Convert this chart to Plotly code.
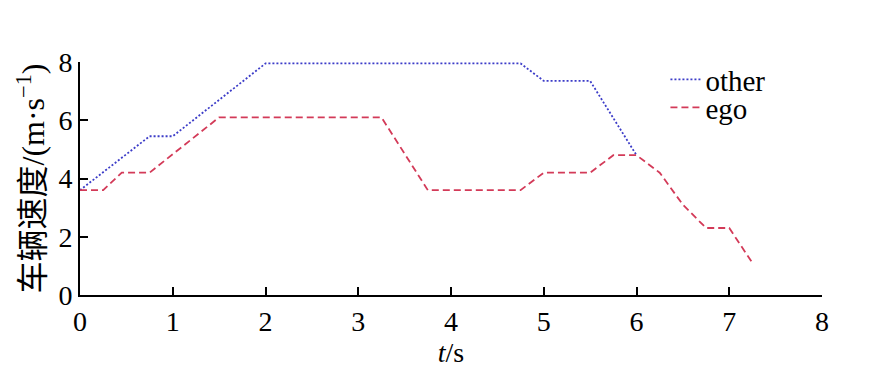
import plotly.graph_objects as go

other_t = [0, 0.75, 1.0, 2.0, 4.75, 5.0, 5.5, 6.0]
other_v = [3.6, 5.45, 5.45, 7.95, 7.95, 7.35, 7.35, 4.8]

ego_t = [0, 0.25, 0.45, 0.75, 1.5, 3.25, 3.75, 4.75, 5.0, 5.5, 5.75, 6.0, 6.25, 6.5, 6.75, 7.0, 7.25]
ego_v = [3.6, 3.6, 4.2, 4.2, 6.1, 6.1, 3.6, 3.6, 4.2, 4.2, 4.8, 4.8, 4.2, 3.1, 2.3, 2.3, 1.1]

x_ticks = [0, 1, 2, 3, 4, 5, 6, 7, 8]
y_ticks = [0, 2, 4, 6, 8]

serif = "Liberation Serif"
title_font = "Liberation Serif, Noto Sans CJK SC"

fig = go.Figure()
fig.add_trace(go.Scatter(x=other_t, y=other_v, mode="lines", name="other", legend="legend",
                         line=dict(color="#3c3cc8", width=1.8, dash="2px,2px")))
fig.add_trace(go.Scatter(x=ego_t, y=ego_v, mode="lines", name="ego", legend="legend2",
                         line=dict(color="#d33a58", width=1.8, dash="7px,4px")))

leg_common = dict(xanchor="left", yanchor="middle", bgcolor="rgba(0,0,0,0)",
                  font=dict(size=29, family=serif), itemwidth=30)

fig.update_layout(
    width=892, height=374,
    margin=dict(l=80, r=70, t=62, b=79),
    paper_bgcolor="white", plot_bgcolor="white",
    font=dict(family=serif, size=28, color="black"),
    showlegend=True,
    legend=dict(x=0.789, y=0.925, **leg_common),
    legend2=dict(x=0.789, y=0.805, **leg_common),
    xaxis=dict(range=[0, 8], tickvals=x_ticks, ticks="inside", ticklen=8,
               tickwidth=1.5, tickcolor="black", showline=True, linecolor="black",
               linewidth=2, showgrid=False, zeroline=False,
               title=dict(text="<i>t</i>/s", font=dict(size=28, family=serif), standoff=2)),
    yaxis=dict(range=[0, 8], tickvals=y_ticks, ticks="inside", ticklen=8,
               tickwidth=1.5, tickcolor="black", showline=True, linecolor="black",
               linewidth=2, showgrid=False, zeroline=False,
               title=dict(text="车辆速度/(m·s<sup>−1</sup>)", font=dict(size=32, family=title_font), standoff=4)),
)

fig.write_html("out.html")
